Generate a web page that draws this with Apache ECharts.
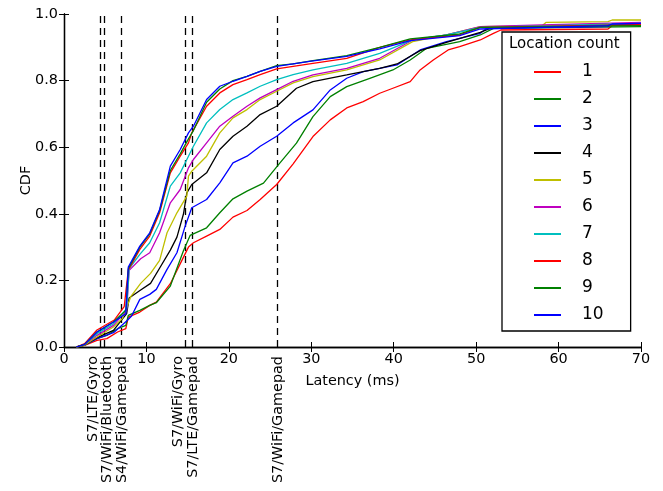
<!DOCTYPE html>
<html>
<head>
<meta charset="utf-8">
<script src="https://cdn.jsdelivr.net/npm/echarts@6/dist/echarts.min.js"></script>
<style>
  html, body { margin: 0; padding: 0; background: #fff; }
  #chart { width: 663px; height: 491px; }
</style>
</head>
<body>
<div id="chart"></div>
<script>
// CDF points [latency ms, cdf] per location count
var cdf1 = [[1.5,0],[2.5,0.005],[4,0.02],[5.2,0.025],[6.5,0.045],[7.5,0.055],[7.8,0.09],[9.2,0.105],[10.4,0.125],[11.2,0.135],[12.9,0.19],[14.5,0.27],[15.1,0.3],[15.7,0.313],[17.3,0.333],[18.9,0.353],[20.5,0.39],[22.2,0.41],[23.8,0.443],[25.8,0.488],[27.8,0.55],[30.2,0.632],[32.3,0.682],[34.3,0.718],[36.3,0.737],[38.3,0.762],[39.9,0.777],[42,0.797],[43.2,0.832],[44.8,0.862],[46.6,0.892],[48,0.902],[50.5,0.922],[52.1,0.942],[53,0.952],[66,0.955],[66.5,0.965],[70,0.967]];
var cdf2 = [[1.5,0],[2.5,0.006],[4,0.025],[5.2,0.035],[6.5,0.055],[7.5,0.065],[7.8,0.095],[9.2,0.11],[10.4,0.125],[11.2,0.133],[12.9,0.183],[14.5,0.29],[15.3,0.335],[17.3,0.358],[18.9,0.403],[20.5,0.445],[22.2,0.468],[24.2,0.492],[26,0.547],[28.2,0.612],[30.2,0.692],[32.3,0.752],[34.3,0.782],[37.1,0.807],[39.9,0.832],[42,0.862],[44,0.897],[48,0.917],[50.5,0.937],[52.1,0.957],[70,0.962]];
var cdf3 = [[1.5,0],[2.5,0.006],[4,0.025],[6,0.043],[7.6,0.078],[8.2,0.093],[9.2,0.143],[10.4,0.158],[11.2,0.173],[12.5,0.233],[13.7,0.283],[14.7,0.363],[15.5,0.418],[17.3,0.443],[18.9,0.493],[20.5,0.553],[22.2,0.573],[23.8,0.603],[25.8,0.633],[27.8,0.673],[30.2,0.712],[32.3,0.772],[34.3,0.807],[36.3,0.827],[40.4,0.847],[43.2,0.892],[46.4,0.917],[50.5,0.942],[51.3,0.957],[66,0.962],[66.5,0.97],[70,0.972]];
var cdf4 = [[1.5,0],[2.5,0.006],[4,0.028],[6,0.05],[7.6,0.1],[7.9,0.147],[9.3,0.171],[10.5,0.191],[11.7,0.241],[12.9,0.291],[13.7,0.33],[14.5,0.4],[14.9,0.463],[15.5,0.488],[17.3,0.523],[18.9,0.593],[20.5,0.633],[22.2,0.663],[23.8,0.698],[25.8,0.723],[28.2,0.777],[30.2,0.797],[34.3,0.817],[38.3,0.837],[40.4,0.85],[43.2,0.89],[46.4,0.915],[50.5,0.945],[52,0.96],[70,0.97]];
var cdf5 = [[1.5,0],[2.5,0.006],[4,0.03],[6,0.06],[7.1,0.086],[8.1,0.151],[9.3,0.191],[10.5,0.221],[11.6,0.26],[12.5,0.343],[13.7,0.403],[14.9,0.453],[15.1,0.513],[15.5,0.528],[17.3,0.573],[18.9,0.643],[20.5,0.688],[22.2,0.713],[23.8,0.743],[25.8,0.768],[27.8,0.793],[30.2,0.812],[34.3,0.832],[38.3,0.862],[42.3,0.917],[46.4,0.937],[50.5,0.962],[58,0.965],[58.5,0.975],[66,0.977],[66.5,0.982],[70,0.982]];
var cdf6 = [[1.5,0],[2.5,0.008],[4,0.035],[6,0.065],[7.6,0.11],[7.9,0.23],[9.3,0.265],[10.4,0.283],[11.6,0.343],[12.9,0.433],[14.1,0.473],[15.1,0.538],[15.7,0.563],[17.3,0.613],[18.9,0.663],[20.5,0.693],[22.2,0.723],[23.8,0.748],[25.8,0.773],[27.8,0.798],[30.2,0.817],[34.3,0.837],[38.3,0.867],[42.3,0.922],[46.4,0.937],[50.5,0.962],[58,0.967],[70,0.975]];
var cdf7 = [[1.5,0],[2.5,0.008],[4,0.04],[6,0.07],[7.6,0.115],[7.9,0.235],[9.2,0.278],[10.4,0.313],[11.6,0.373],[12.9,0.483],[14.1,0.523],[15.1,0.573],[15.7,0.603],[17.3,0.673],[18.9,0.713],[20.5,0.743],[22.2,0.763],[23.8,0.783],[25.8,0.803],[27.8,0.818],[30.2,0.832],[34.3,0.852],[38.3,0.882],[42.3,0.922],[46.4,0.937],[50.5,0.96],[70,0.972]];
var cdf8 = [[1.5,0],[2.5,0.01],[4,0.051],[6.1,0.081],[7.3,0.121],[7.8,0.231],[9.2,0.293],[10.4,0.333],[11.6,0.403],[12.9,0.523],[14.1,0.573],[15.1,0.613],[15.5,0.643],[17.3,0.723],[18.9,0.763],[20.5,0.788],[22.2,0.803],[23.8,0.818],[25.8,0.835],[27.8,0.843],[30.2,0.852],[34.3,0.867],[38.3,0.9],[42,0.922],[48,0.937],[50.5,0.96],[70,0.968]];
var cdf9 = [[1.5,0],[2.5,0.008],[4,0.045],[6,0.075],[7.5,0.11],[7.8,0.235],[9.2,0.3],[10.4,0.34],[11.6,0.41],[12.9,0.53],[14.1,0.58],[15.1,0.625],[15.7,0.65],[17.3,0.735],[18.9,0.775],[20.5,0.8],[22.2,0.813],[23.8,0.828],[25.8,0.845],[27.8,0.85],[30.2,0.86],[34.3,0.875],[38.3,0.9],[42,0.925],[48,0.94],[50.5,0.96],[70,0.965]];
var cdf10 = [[1.5,0],[2.5,0.008],[4,0.045],[6,0.075],[7.5,0.1],[7.8,0.24],[9.2,0.303],[10.4,0.343],[11.6,0.413],[12.9,0.543],[14.1,0.593],[15.1,0.643],[15.7,0.663],[17.3,0.743],[18.9,0.783],[20.5,0.798],[22.2,0.813],[23.8,0.828],[25.8,0.843],[29.8,0.858],[34.3,0.873],[38.3,0.895],[42,0.92],[48,0.935],[50.5,0.955],[66,0.965],[66.5,0.97],[70,0.972]];

var seriesNames = ['1', '2', '3', '4', '5', '6', '7', '8', '9', '10'];
var seriesColors = ['#ff0000', '#008000', '#0000ff', '#000000', '#bfbf00', '#bf00bf', '#00bfbf', '#ff0000', '#008000', '#0000ff'];
var seriesData = [cdf1, cdf2, cdf3, cdf4, cdf5, cdf6, cdf7, cdf8, cdf9, cdf10];

// dashed reference latencies and where their rotated labels sit
var markerLines = [4.37, 4.89, 7.0, 14.72, 15.53, 25.93];
var markerLabelPos = [3.52, 5.22, 7.04, 13.83, 15.65, 25.96];
var markerNames = ['S7/LTE/Gyro', 'S7/WiFi/Bluetooth', 'S4/WiFi/Gamepad', 'S7/WiFi/Gyro', 'S7/LTE/Gamepad', 'S7/WiFi/Gamepad'];

var font = 'DejaVu Sans';
var fs = 14.4;
var chart = echarts.init(document.getElementById('chart'));

var series = seriesData.map(function (d, i) {
    return {
        name: seriesNames[i],
        type: 'line',
        data: d,
        showSymbol: false,
        symbol: 'none',
        color: seriesColors[i],
        lineStyle: { width: 1.3, color: seriesColors[i] },
        z: 3
    };
});
series[0].markLine = {
    silent: true,
    symbol: 'none',
    label: { show: false },
    lineStyle: { type: [7, 5], color: '#000', width: 1.3 },
    data: markerLines.map(function (v) { return { xAxis: v }; }),
    z: 2
};

var axisCommon = {
    min: 0,
    axisLine: { show: true, lineStyle: { color: '#000', width: 1.3 } },
    axisTick: { show: true, inside: true, length: 5, lineStyle: { color: '#000', width: 1 } },
    splitLine: { show: false }
};

chart.setOption({
    animation: false,
    textStyle: { fontFamily: font },
    grid: { left: 64, right: 22, top: 14, bottom: 144 },
    xAxis: [
        Object.assign({}, axisCommon, {
            type: 'value', max: 70, interval: 10, position: 'bottom',
            name: 'Latency (ms)', nameLocation: 'middle', nameGap: 27, nameMoveOverlap: false,
            nameTextStyle: { fontSize: fs, color: '#000', fontFamily: font },
            axisLabel: { fontSize: fs, color: '#000', margin: 5, fontFamily: font }
        }),
        Object.assign({}, axisCommon, {
            type: 'value', max: 70, interval: 10, position: 'top',
            axisLabel: { show: false }
        }),
        {
            type: 'value', min: 0, max: 70, position: 'bottom', offset: 0,
            axisLine: { show: false }, axisTick: { show: false }, splitLine: { show: false },
            axisLabel: {
                show: true, rotate: 90, margin: 9, fontSize: fs, color: '#000', fontFamily: font,
                customValues: markerLabelPos,
                formatter: function (v) {
                    var k = markerLabelPos.indexOf(v);
                    return k >= 0 ? markerNames[k] : '';
                }
            }
        }
    ],
    yAxis: [
        Object.assign({}, axisCommon, {
            type: 'value', max: 1, interval: 0.2, position: 'left',
            name: 'CDF', nameLocation: 'middle', nameGap: 31, nameRotate: 90, nameMoveOverlap: false,
            nameTextStyle: { fontSize: fs, color: '#000', fontFamily: font },
            axisLabel: { fontSize: fs, color: '#000', margin: 6, fontFamily: font,
                formatter: function (v) { return v.toFixed(1); } }
        }),
        Object.assign({}, axisCommon, {
            type: 'value', max: 1, interval: 0.2, position: 'right',
            axisLabel: { show: false }
        })
    ],
    legend: {
        orient: 'vertical',
        left: 502,
        top: 32,
        data: seriesNames,
        icon: 'rect',
        itemWidth: 27,
        itemHeight: 2,
        itemGap: 7,
        padding: [30, 27, 6, 32],
        borderColor: '#000',
        borderWidth: 1.3,
        backgroundColor: '#fff',
        textStyle: { fontSize: 17, color: '#000', fontFamily: font, lineHeight: 20, padding: [0, 0, 0, 16] }
    },
    graphic: [{
        type: 'text',
        left: 509,
        top: 37,
        z: 100,
        style: { text: 'Location count', font: '15px "DejaVu Sans"', fill: '#000' }
    }],
    series: series
});
</script>
</body>
</html>
